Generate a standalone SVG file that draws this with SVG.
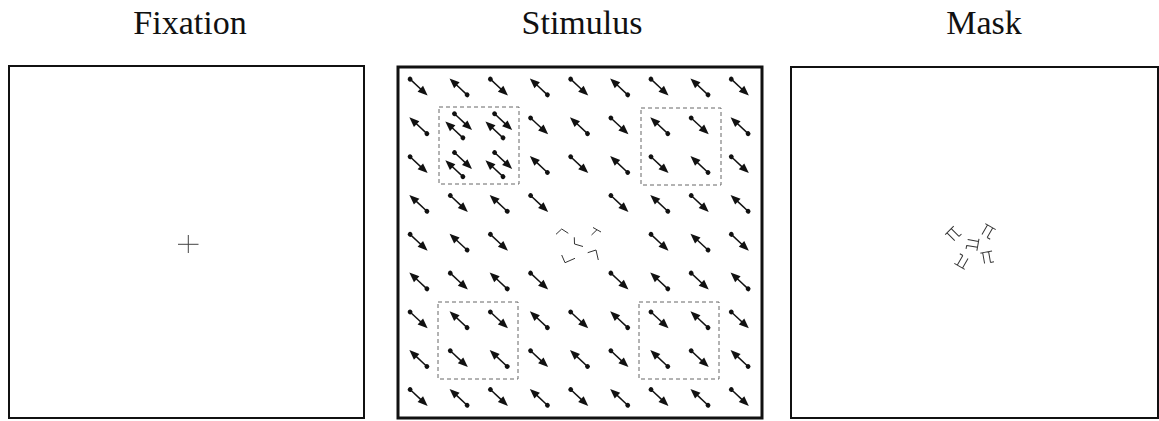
<svg xmlns="http://www.w3.org/2000/svg" xmlns:xlink="http://www.w3.org/1999/xlink" width="1159" height="421" viewBox="0 0 1159 421">
<style>
.title{font-family:'Liberation Serif','Times New Roman',Times,serif;font-size:34px;fill:#111;text-anchor:middle}
.panel{fill:#fff;stroke:#111;stroke-width:2}
.panel-thick{fill:#fff;stroke:#111;stroke-width:3}
.dash{fill:none;stroke:#666;stroke-width:1;stroke-dasharray:4 3}
.glyph{fill:none;stroke:#333;stroke-width:1}
.mk{fill:none;stroke:#333;stroke-width:1}
</style>
<defs>
<g id="a0">
<circle cx="-11.5" cy="0" r="2.4" fill="#111"/>
<line x1="-11.5" y1="0" x2="4" y2="0" stroke="#111" stroke-width="1.5"/>
<polygon points="12.5,0 2.5,-4 2.5,4" fill="#111"/>
</g>
<g id="d"><use xlink:href="#a0" transform="rotate(43)"/></g>
<g id="u"><use xlink:href="#a0" transform="rotate(223)"/></g>
<path id="m" d="M-6,-5 H6 M-3.5,-5 V6 M2.5,-5 V6 M2.5,6 H6"/>
</defs>
<rect width="1159" height="421" fill="#fff"/>

<g id="fixation">
<text class="title" font-family="Liberation Serif, serif" x="190" y="34">Fixation</text>
<rect class="panel" x="9" y="66" width="355" height="352"/>
<path d="M178,244.3 H198.5 M188.3,235 V253" stroke="#444" stroke-width="1" fill="none"/>
</g>

<g id="stimulus">
<text class="title" font-family="Liberation Serif, serif" x="582" y="34">Stimulus</text>
<rect class="panel-thick" x="398" y="67" width="364" height="351"/>
<rect class="dash" x="439" y="107" width="80" height="77"/>
<rect class="dash" x="641" y="108" width="80" height="77"/>
<rect class="dash" x="438" y="302" width="80" height="77"/>
<rect class="dash" x="639" y="302" width="80" height="77"/>
<!-- row 1 -->
<use xlink:href="#d" x="418.5" y="87"/>
<use xlink:href="#u" x="458.7" y="87"/>
<use xlink:href="#d" x="498.8" y="87"/>
<use xlink:href="#u" x="539" y="87"/>
<use xlink:href="#d" x="579.1" y="87"/>
<use xlink:href="#u" x="619.3" y="87"/>
<use xlink:href="#d" x="659.4" y="87"/>
<use xlink:href="#u" x="699.6" y="87"/>
<use xlink:href="#d" x="739.7" y="87"/>
<!-- row 2 -->
<use xlink:href="#u" x="418.5" y="125.8"/>
<use xlink:href="#d" x="462.9" y="121.6"/>
<use xlink:href="#u" x="454.5" y="130"/>
<use xlink:href="#d" x="503" y="121.6"/>
<use xlink:href="#u" x="494.6" y="130"/>
<use xlink:href="#d" x="539" y="125.8"/>
<use xlink:href="#u" x="579.1" y="125.8"/>
<use xlink:href="#d" x="619.3" y="125.8"/>
<use xlink:href="#u" x="659.4" y="125.8"/>
<use xlink:href="#d" x="699.6" y="125.8"/>
<use xlink:href="#u" x="739.7" y="125.8"/>
<!-- row 3 -->
<use xlink:href="#d" x="418.5" y="164.6"/>
<use xlink:href="#d" x="462.9" y="160.4"/>
<use xlink:href="#u" x="454.5" y="168.8"/>
<use xlink:href="#d" x="503" y="160.4"/>
<use xlink:href="#u" x="494.6" y="168.8"/>
<use xlink:href="#u" x="539" y="164.6"/>
<use xlink:href="#d" x="579.1" y="164.6"/>
<use xlink:href="#u" x="619.3" y="164.6"/>
<use xlink:href="#d" x="659.4" y="164.6"/>
<use xlink:href="#u" x="699.6" y="164.6"/>
<use xlink:href="#d" x="739.7" y="164.6"/>
<!-- row 4 -->
<use xlink:href="#u" x="418.5" y="203.4"/>
<use xlink:href="#d" x="458.7" y="203.4"/>
<use xlink:href="#u" x="498.8" y="203.4"/>
<use xlink:href="#d" x="539" y="203.4"/>
<use xlink:href="#d" x="619.3" y="203.4"/>
<use xlink:href="#u" x="659.4" y="203.4"/>
<use xlink:href="#d" x="699.6" y="203.4"/>
<use xlink:href="#u" x="739.7" y="203.4"/>
<!-- row 5 -->
<use xlink:href="#d" x="418.5" y="242.2"/>
<use xlink:href="#u" x="458.7" y="242.2"/>
<use xlink:href="#d" x="498.8" y="242.2"/>
<use xlink:href="#d" x="659.4" y="242.2"/>
<use xlink:href="#u" x="699.6" y="242.2"/>
<use xlink:href="#d" x="739.7" y="242.2"/>
<!-- row 6 -->
<use xlink:href="#u" x="418.5" y="281"/>
<use xlink:href="#d" x="458.7" y="281"/>
<use xlink:href="#u" x="498.8" y="281"/>
<use xlink:href="#d" x="539" y="281"/>
<use xlink:href="#d" x="619.3" y="281"/>
<use xlink:href="#u" x="659.4" y="281"/>
<use xlink:href="#d" x="699.6" y="281"/>
<use xlink:href="#u" x="739.7" y="281"/>
<!-- row 7 -->
<use xlink:href="#d" x="418.5" y="319.8"/>
<use xlink:href="#u" x="458.7" y="319.8"/>
<use xlink:href="#d" x="498.8" y="319.8"/>
<use xlink:href="#u" x="539" y="319.8"/>
<use xlink:href="#d" x="579.1" y="319.8"/>
<use xlink:href="#u" x="619.3" y="319.8"/>
<use xlink:href="#d" x="659.4" y="319.8"/>
<use xlink:href="#u" x="699.6" y="319.8"/>
<use xlink:href="#d" x="739.7" y="319.8"/>
<!-- row 8 -->
<use xlink:href="#u" x="418.5" y="358.6"/>
<use xlink:href="#d" x="458.7" y="358.6"/>
<use xlink:href="#u" x="498.8" y="358.6"/>
<use xlink:href="#d" x="539" y="358.6"/>
<use xlink:href="#u" x="579.1" y="358.6"/>
<use xlink:href="#d" x="619.3" y="358.6"/>
<use xlink:href="#u" x="659.4" y="358.6"/>
<use xlink:href="#d" x="699.6" y="358.6"/>
<use xlink:href="#u" x="739.7" y="358.6"/>
<!-- row 9 -->
<use xlink:href="#d" x="418.5" y="397.4"/>
<use xlink:href="#u" x="458.7" y="397.4"/>
<use xlink:href="#d" x="498.8" y="397.4"/>
<use xlink:href="#u" x="539" y="397.4"/>
<use xlink:href="#d" x="579.1" y="397.4"/>
<use xlink:href="#u" x="619.3" y="397.4"/>
<use xlink:href="#d" x="659.4" y="397.4"/>
<use xlink:href="#u" x="699.6" y="397.4"/>
<use xlink:href="#d" x="739.7" y="397.4"/>
<!-- central T among Ls -->
<polyline class="glyph" points="556,234.3 561.7,229 568.3,233.3"/>
<path class="glyph" d="M593,227.5 L601,232 M597,229.7 L591.5,235"/>
<polyline class="glyph" points="574.3,237.3 574.5,244 583,246.5"/>
<polyline class="glyph" points="587.7,252.7 596,250 598.3,260"/>
<polyline class="glyph" points="561.7,255 565,262.7 575,258.3"/>
</g>

<g id="mask">
<text class="title" font-family="Liberation Serif, serif" x="984" y="34">Mask</text>
<rect class="panel" x="791" y="67" width="367" height="351"/>
<use class="mk" xlink:href="#m" transform="translate(953,234) rotate(-45)"/>
<use class="mk" xlink:href="#m" transform="translate(988,231) rotate(30)"/>
<use class="mk" xlink:href="#m" transform="translate(973,244) rotate(100)"/>
<use class="mk" xlink:href="#m" transform="translate(987,257) rotate(-10)"/>
<use class="mk" xlink:href="#m" transform="translate(962,262) rotate(-150)"/>
</g>

<g id="connectors"/>
</svg>
